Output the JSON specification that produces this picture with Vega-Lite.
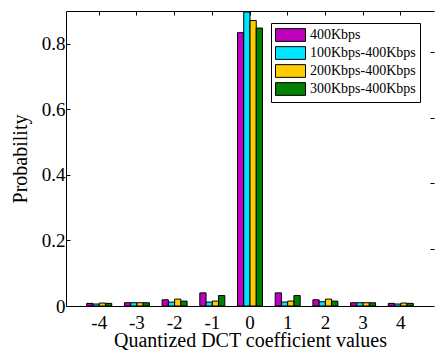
{
  "$schema": "https://vega.github.io/schema/vega-lite/v6.json",
  "width": 368,
  "height": 295,
  "autosize": {"type": "none"},
  "padding": {"left": 66, "top": 11, "right": 1, "bottom": 45},
  "background": "white",
  "config": {
    "font": "Liberation Serif",
    "view": {"stroke": null},
    "axis": {
      "labelFont": "Liberation Serif",
      "titleFont": "Liberation Serif",
      "labelColor": "black",
      "titleColor": "black",
      "domainColor": "black",
      "tickColor": "black",
      "grid": false,
      "titleFontWeight": "normal",
      "domainWidth": 1,
      "tickWidth": 1
    }
  },
  "data": {
    "values": [
      {"k": -4, "s": "400Kbps", "p": 0.008},
      {"k": -4, "s": "100Kbps-400Kbps", "p": 0.006},
      {"k": -4, "s": "200Kbps-400Kbps", "p": 0.009},
      {"k": -4, "s": "300Kbps-400Kbps", "p": 0.008},
      {"k": -3, "s": "400Kbps", "p": 0.01},
      {"k": -3, "s": "100Kbps-400Kbps", "p": 0.01},
      {"k": -3, "s": "200Kbps-400Kbps", "p": 0.01},
      {"k": -3, "s": "300Kbps-400Kbps", "p": 0.01},
      {"k": -2, "s": "400Kbps", "p": 0.019},
      {"k": -2, "s": "100Kbps-400Kbps", "p": 0.012},
      {"k": -2, "s": "200Kbps-400Kbps", "p": 0.021},
      {"k": -2, "s": "300Kbps-400Kbps", "p": 0.015},
      {"k": -1, "s": "400Kbps", "p": 0.04},
      {"k": -1, "s": "100Kbps-400Kbps", "p": 0.012},
      {"k": -1, "s": "200Kbps-400Kbps", "p": 0.015},
      {"k": -1, "s": "300Kbps-400Kbps", "p": 0.032},
      {"k": 0, "s": "400Kbps", "p": 0.834},
      {"k": 0, "s": "100Kbps-400Kbps", "p": 0.897},
      {"k": 0, "s": "200Kbps-400Kbps", "p": 0.871},
      {"k": 0, "s": "300Kbps-400Kbps", "p": 0.848},
      {"k": 1, "s": "400Kbps", "p": 0.04},
      {"k": 1, "s": "100Kbps-400Kbps", "p": 0.012},
      {"k": 1, "s": "200Kbps-400Kbps", "p": 0.015},
      {"k": 1, "s": "300Kbps-400Kbps", "p": 0.032},
      {"k": 2, "s": "400Kbps", "p": 0.019},
      {"k": 2, "s": "100Kbps-400Kbps", "p": 0.013},
      {"k": 2, "s": "200Kbps-400Kbps", "p": 0.021},
      {"k": 2, "s": "300Kbps-400Kbps", "p": 0.015},
      {"k": 3, "s": "400Kbps", "p": 0.01},
      {"k": 3, "s": "100Kbps-400Kbps", "p": 0.01},
      {"k": 3, "s": "200Kbps-400Kbps", "p": 0.01},
      {"k": 3, "s": "300Kbps-400Kbps", "p": 0.01},
      {"k": 4, "s": "400Kbps", "p": 0.008},
      {"k": 4, "s": "100Kbps-400Kbps", "p": 0.006},
      {"k": 4, "s": "200Kbps-400Kbps", "p": 0.009},
      {"k": 4, "s": "300Kbps-400Kbps", "p": 0.008}
    ]
  },
  "layer": [
    {
      "mark": {"type": "bar", "stroke": "black", "strokeWidth": 1, "clip": true},
      "encoding": {
        "x": {
          "field": "k", "type": "ordinal",
          "scale": {"paddingInner": 0.337, "paddingOuter": 0.55},
          "axis": {
            "orient": "bottom", "labelAngle": 0, "labelFontSize": 19, "ticks": false,
            "labelPadding": 7, "title": "Quantized DCT coefficient values",
            "titleFontSize": 20, "titlePadding": -2
          }
        },
        "xOffset": {
          "field": "s", "type": "nominal",
          "sort": ["400Kbps", "100Kbps-400Kbps", "200Kbps-400Kbps", "300Kbps-400Kbps"],
          "scale": {"paddingInner": 0, "paddingOuter": 0}
        },
        "y": {
          "field": "p", "type": "quantitative",
          "scale": {"domain": [0, 0.9], "nice": false},
          "axis": {
            "orient": "left", "values": [0, 0.2, 0.4, 0.6, 0.8], "format": ".1~f",
            "tickSize": -4, "labelFontSize": 19, "labelPadding": 5,
            "title": "Probability", "titleFontSize": 20, "titlePadding": 11
          }
        },
        "color": {
          "field": "s", "type": "nominal",
          "scale": {
            "domain": ["400Kbps", "100Kbps-400Kbps", "200Kbps-400Kbps", "300Kbps-400Kbps"],
            "range": ["#BF00BF", "#00E5FF", "#FFCC00", "#007F00"]
          },
          "legend": {
            "orient": "none", "legendX": 205, "legendY": 12, "title": null,
            "strokeColor": "black", "fillColor": "white", "padding": 4,
            "symbolType": "M-1,-0.85H3V0.85H-1Z", "symbolSize": 225,
            "symbolStrokeColor": "black", "symbolStrokeWidth": 1, "symbolOpacity": 1,
            "labelFont": "Liberation Serif", "labelFontSize": 14, "labelColor": "black",
            "rowPadding": 0, "labelOffset": 19
          }
        }
      }
    },
    {
      "mark": {"type": "bar", "opacity": 0},
      "encoding": {
        "x": {
          "field": "k", "type": "ordinal",
          "axis": {"orient": "top", "labels": false, "tickSize": -4, "title": null, "domain": true}
        },
        "y": {
          "field": "p", "type": "quantitative",
          "axis": {"orient": "right", "labels": false, "values": [0.174, 0.374, 0.574, 0.774], "tickSize": -4, "title": null, "domain": false}
        }
      }
    }
  ],
  "resolve": {"axis": {"x": "independent", "y": "independent"}}
}
